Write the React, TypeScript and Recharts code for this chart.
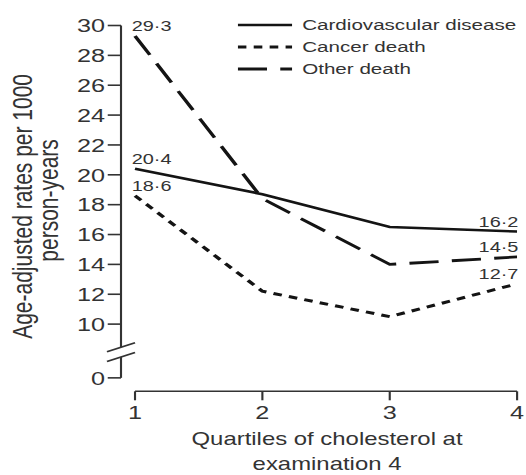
import { LabelList, Legend, Line, LineChart, ReferenceLine, XAxis, YAxis } from "recharts";

const quartiles = [1, 2, 3, 4];
const cardiovascular = [20.4, 18.7, 16.5, 16.2];
const cancerDeath = [18.6, 12.2, 10.5, 12.7];
const otherDeath = [29.3, 18.4, 14.0, 14.5];
const yTicks = [10, 12, 14, 16, 18, 20, 22, 24, 26, 28, 30];
const seriesNames = ["Cardiovascular disease", "Cancer death", "Other death"];

// broken y axis: "0" sits just under the break, at this axis value
const ZERO_AT = 6.4;
const X_MIN = 0.89;
const Y_MIN = 5.5;

const data = quartiles.map((q, i) => ({ q, cvd: cardiovascular[i], cancer: cancerDeath[i], other: otherDeath[i] }));

const series = [
  { key: "cvd", name: seriesNames[0], dash: undefined, width: 2.6 },
  { key: "cancer", name: seriesNames[1], dash: "6.5 5.5", width: 3 },
  { key: "other", name: seriesNames[2], dash: "22 10", width: 2.8 },
];

// the source figure is stretched sideways, so the whole chart is drawn narrow and scaled
const W = 396;
const H = 475;
const STRETCH = 526 / W;
const font = "'Liberation Sans', Arial, Helvetica, sans-serif";
const ink = "#141414";
const textInk = "#333";
const axisTick = { fill: textInk, fontSize: 19, fontFamily: font };

const fmt = (v: number) => v.toFixed(1).replace(".", "\u00b7");

function EndLabel(props: any) {
  const { x, y, value, index } = props;
  const style = { fontSize: 15, fontFamily: font, fill: textInk };
  if (index === 0) return <text x={x - 2.5} y={y - 4.5} {...style}>{fmt(value)}</text>;
  if (index === quartiles.length - 1) return <text x={x + 1} y={y - 5} textAnchor="end" {...style}>{fmt(value)}</text>;
  return null;
}

function YTitle({ viewBox }: any) {
  const { x, y, height } = viewBox;
  const cy = y + height / 2;
  return (
    <g fill={textInk} fontSize={21} fontFamily={font}>
      <text transform={`translate(${x + 24},${cy - 2}) rotate(-90)`} textAnchor="middle">Age-adjusted rates per 1000</text>
      <text transform={`translate(${x + 43.5},${cy - 8}) rotate(-90)`} textAnchor="middle">person-years</text>
    </g>
  );
}

function XTitle({ viewBox }: any) {
  const { x, y, width } = viewBox;
  const cx = x + width / 2 + 6;
  return (
    <text x={cx} y={y + 54} textAnchor="middle" fontSize={18} fill={textInk} fontFamily={font}>
      <tspan x={cx}>Quartiles of cholesterol at</tspan>
      <tspan x={cx} dy={25}>examination 4</tspan>
    </text>
  );
}

function LegendBox() {
  return (
    <div style={{ fontFamily: font, fontSize: 15.5, color: textInk }}>
      {series.map((s) => (
        <div key={s.key} style={{ display: "flex", alignItems: "center", height: 22 }}>
          <svg width={41} height={22} style={{ marginRight: 8 }}>
            <line x1={0} x2={41} y1={11} y2={11} stroke={ink} strokeWidth={s.width} strokeDasharray={s.dash} />
          </svg>
          <span>{s.name}</span>
        </div>
      ))}
    </div>
  );
}

const axisLine = { stroke: textInk, strokeWidth: 1.6, ifOverflow: "visible" as const };

export default function App() {
  return (
    <div style={{ position: "absolute", left: 0, top: 0, width: W, height: H, transform: `scaleX(${STRETCH})`, transformOrigin: "0 0", background: "#fff" }}>
      <LineChart width={W} height={H} data={data} margin={{ top: 25.5, right: 6.7, left: 0, bottom: 0 }}>
        <XAxis
          dataKey="q"
          type="number"
          domain={[X_MIN, 4]}
          allowDataOverflow
          ticks={quartiles}
          interval={0}
          height={83.7}
          axisLine={false}
          tickLine={{ stroke: textInk, strokeWidth: 1.6 }}
          tickSize={9}
          tickMargin={5}
          tick={axisTick}
          label={{ content: XTitle }}
        />
        <YAxis
          type="number"
          domain={[Y_MIN, 30]}
          allowDataOverflow
          ticks={[ZERO_AT, ...yTicks]}
          interval={0}
          width={91.1}
          axisLine={false}
          tickLine={{ stroke: textInk, strokeWidth: 1.6 }}
          tickSize={10}
          tickMargin={2}
          tick={axisTick}
          tickFormatter={(v: number) => (v === ZERO_AT ? "0" : String(v))}
          label={{ content: YTitle }}
        />
        <ReferenceLine segment={[{ x: 1, y: Y_MIN }, { x: 4, y: Y_MIN }]} {...axisLine} />
        <ReferenceLine segment={[{ x: X_MIN, y: 30 }, { x: X_MIN, y: 8.45 }]} {...axisLine} />
        <ReferenceLine segment={[{ x: X_MIN, y: 7.8 }, { x: X_MIN, y: ZERO_AT }]} {...axisLine} />
        <ReferenceLine segment={[{ x: 0.78, y: 8.15 }, { x: 1.0, y: 8.75 }]} {...axisLine} />
        <ReferenceLine segment={[{ x: 0.78, y: 7.5 }, { x: 1.0, y: 8.1 }]} {...axisLine} />
        <Legend
          layout="vertical"
          align="center"
          verticalAlign="middle"
          wrapperStyle={{ top: 14, left: 178.5, width: 220 }}
          content={LegendBox}
        />
        {series.map((s) => (
          <Line
            key={s.key}
            dataKey={s.key}
            name={s.name}
            type="linear"
            stroke={ink}
            strokeWidth={s.width}
            strokeDasharray={s.dash}
            dot={false}
            activeDot={false}
            isAnimationActive={false}
          >
            <LabelList dataKey={s.key} content={EndLabel} />
          </Line>
        ))}
      </LineChart>
    </div>
  );
}
